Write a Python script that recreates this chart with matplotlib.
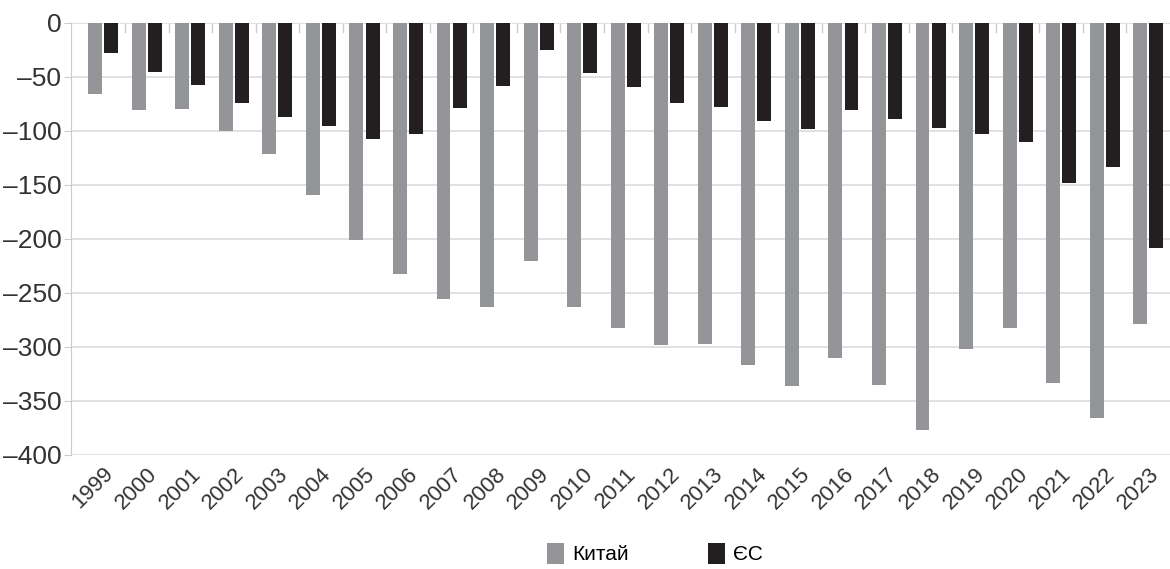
import matplotlib
matplotlib.use("Agg")
from matplotlib import pyplot as plt
import numpy as np

plt.rcParams['font.family'] = ['Liberation Sans', 'DejaVu Sans']

# Net balance by year
years = [str(y) for y in range(1999, 2024)]
china = [-66, -81, -80, -100, -121, -159, -201, -232, -256, -263, -220, -263, -282,
         -298, -297, -317, -336, -310, -335, -377, -302, -282, -333, -366, -279]
eu = [-28, -45, -57, -74, -87, -95, -107, -103, -79, -58, -25, -46, -59,
      -74, -78, -91, -98, -81, -89, -97, -103, -110, -148, -133, -208]
yticks = [0, -50, -100, -150, -200, -250, -300, -350, -400]

grey = "#939598"
black = "#231f20"

fig = plt.figure(figsize=(11.7, 5.69), dpi=100)
ax = fig.add_axes([0.0607, 0.2004, 0.9393, 0.7592])

x = np.arange(len(years))
w = 0.32
ax.bar(x - 0.185, china, w, color=grey, label="Китай", zorder=3)
ax.bar(x + 0.185, eu, w, color=black, label="ЄС", zorder=3)

ax.set_ylim(-400, 0)
ax.set_xlim(-0.74, len(years) - 0.5)
ax.set_yticks(yticks)
ax.set_yticklabels([str(v).replace("-", "\u2013") for v in yticks], fontsize=19, color="#333333")
ax.yaxis.grid(True, color="#dcdcdc", linewidth=1.2, zorder=0)
ax.tick_params(axis="y", length=5, color="#cccccc", pad=2)

ax.set_xticks(x)
ax.set_xticklabels(years, rotation=45, ha="right", rotation_mode="anchor",
                   fontsize=16, color="#333333")
ax.tick_params(axis="x", length=0, pad=6)

# small separators between year groups along the zero line
for xb in x[:-1] + 0.5:
    ax.plot([xb, xb], [0, -8], color="#cccccc", linewidth=1, zorder=1)

for s in ["top", "right", "bottom"]:
    ax.spines[s].set_visible(False)
ax.spines["left"].set_color("#cccccc")

fig.legend(loc="lower center", ncol=2, frameon=False, fontsize=15,
           bbox_to_anchor=(0.56, -0.025), handlelength=0.8, handleheight=1.2,
           columnspacing=3.8, handletextpad=0.4)

fig.savefig("out.png", dpi=100)
